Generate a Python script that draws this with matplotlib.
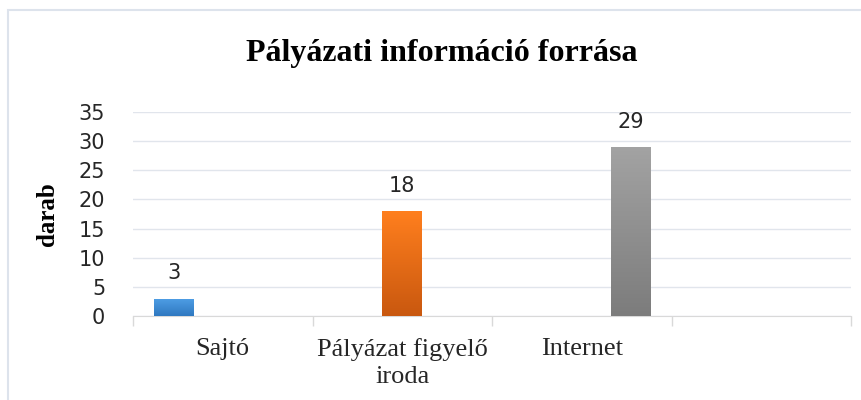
import matplotlib.pyplot as plt
import numpy as np
from matplotlib.colors import LinearSegmentedColormap
from matplotlib.patches import Rectangle

title = "Pályázati információ forrása"
categories = ["Sajtó", "Pályázat figyelő\niroda", "Internet", ""]
values = [3, 18, 29]
series_cat = [0, 1, 2]
# gradient colours (top, bottom) for each series
colors = [("#4f9fe6", "#2f78c0"), ("#ff7f1e", "#c9580f"), ("#a3a3a3", "#7c7c7c")]
yticks = [0, 5, 10, 15, 20, 25, 30, 35]

BAR_W = 0.222
OFFSETS = [-0.272, 0.0, 0.272]

fig = plt.figure(figsize=(8.61, 4.0), dpi=100)
ax = fig.add_axes([0.1545, 0.21, 0.834, 0.51])

# chart frame (top and left edges visible)
fig.add_artist(Rectangle((8 / 861, -0.05), 1.2, 1 - 10 / 400 + 0.05,
                         transform=fig.transFigure, fill=False,
                         edgecolor="#dde3ec", lw=1.5))

grad = np.linspace(0, 1, 256).reshape(-1, 1)
for i, v in enumerate(values):
    x = series_cat[i] + OFFSETS[i]
    bar = ax.bar(x, v, width=BAR_W, color="none", zorder=3)[0]
    cmap = LinearSegmentedColormap.from_list("g%d" % i, [colors[i][1], colors[i][0]])
    im = ax.imshow(grad, cmap=cmap, aspect="auto", origin="lower",
                   extent=[x - BAR_W / 2, x + BAR_W / 2, 0, v], zorder=3)
    im.set_clip_path(bar)
    ax.text(x, v + 4.3, str(v), ha="center", va="center",
            fontsize=15, family="DejaVu Sans", color="#262626")

ax.set_xlim(-0.5, 3.5)
ax.set_ylim(0, 35)
ax.set_yticks(yticks)
ax.tick_params(axis="y", length=0, pad=20, labelsize=15, labelcolor="#262626")
for lab in ax.get_yticklabels():
    lab.set_family("DejaVu Sans")

ax.set_xticks(range(len(categories)))
ax.set_xticklabels(categories, family="Liberation Serif", fontsize=19,
                   color="#262626", linespacing=1.3)
ax.set_xticks(np.arange(-0.5, 4.0, 1.0), minor=True)
ax.tick_params(axis="x", which="major", length=0, pad=16)
ax.tick_params(axis="x", which="minor", length=7, color="#d9d9d9", width=1)

ax.grid(axis="y", color="#e1e5ec", lw=1)
ax.set_axisbelow(True)
for s in ["top", "right", "left"]:
    ax.spines[s].set_visible(False)
ax.spines["bottom"].set_color("#d9d9d9")

ax.set_ylabel("darab", family="Liberation Serif", fontweight="bold",
              fontsize=18, labelpad=14)
fig.text(0.513, 0.865, title, ha="center", va="center",
         family="Liberation Serif", fontweight="bold", fontsize=23)

fig.savefig("out.png", dpi=100)
